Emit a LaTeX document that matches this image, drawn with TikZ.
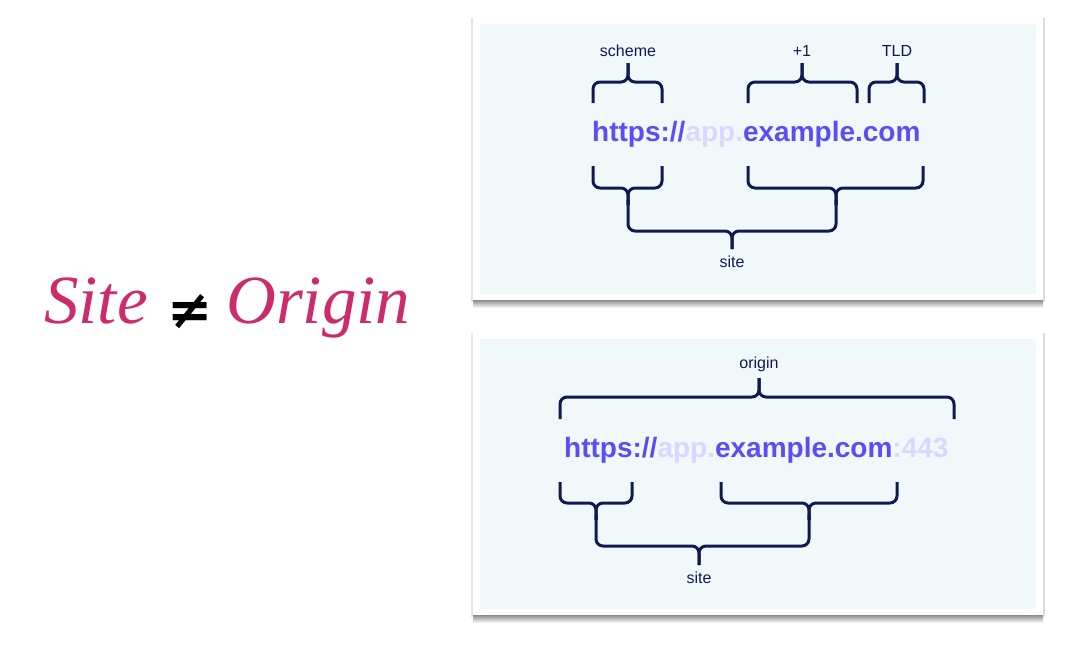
\documentclass[tikz,border=0pt]{standalone}
\usepackage{fontspec}
\setmainfont{Liberation Sans}
\newfontfamily\titlefont{Liberation Serif}
\newfontfamily\symfont{DejaVu Sans}
\usetikzlibrary{positioning}

\definecolor{urlblue}{HTML}{5B4DF6}
\definecolor{urlpale}{HTML}{DAD6FE}
\definecolor{bracenavy}{HTML}{0E1B50}
\definecolor{panelblue}{HTML}{F1F8FA}
\definecolor{titlepink}{HTML}{CC2B6C}

\tikzset{
	brace/.style={draw=bracenavy, line width=3pt, rounded corners=7pt},
	lbl/.style={text=bracenavy, font=\fontsize{16}{18}\selectfont, inner sep=0pt},
	url/.style={font=\fontsize{28}{32}\selectfont\bfseries, inner sep=0pt, anchor=base west},
	titleword/.style={text=titlepink, font=\fontsize{69}{75}\selectfont\titlefont\itshape, inner sep=0pt, anchor=base west},
	neqsign/.style={font=\fontsize{54}{58}\selectfont\symfont\bfseries, inner sep=0pt}
}

\begin{document}
\begin{tikzpicture}[x=1pt, y=-1pt]

		\useasboundingbox (0,0) rectangle (1086,651);

		% Define the macros.
		% Card: 1st argument: top y, 2nd argument: bottom y of the white card.
		\newcommand{\urlCard}[2]{
			\shade[top color=black!45, bottom color=white] (473,#2) rectangle (1043,#2+8);
			\fill[black!10] (471,#1) rectangle (473,#2+2);
			\fill[black!14] (1043,#1) rectangle (1045,#2+2);
			\fill[white] (473,#1) rectangle (1043,#2);
			\fill[panelblue] (480,#1+6) rectangle (1036,#2-6);
		}

		% Brace: 1st/2nd argument: x of left and right leg,
		% 3rd argument: y where the legs end, 4th argument: y of the bar,
		% 5th argument: tip coordinate.
		\newcommand{\urlBrace}[5]{
			\draw[brace] (#1,#3) -- (#1,#4) -| (#5);
			\draw[brace] (#2,#3) -- (#2,#4) -| (#5);
		}

		% TITLE
		\node[titleword] (siteWord) at (44,323) {Site};
		\node[neqsign] (neq) at (190,312) {≠};
		\node[titleword] (originWord) at (226,323) {Origin};

		% SITE CARD
		\urlCard{18}{300}
		\node[url] (urlTop) at (592,141) {\textcolor{urlblue}{https://}\textcolor{urlpale}{app.}\textcolor{urlblue}{example.com}};

		\coordinate (schemeTip) at (628,63);
		\coordinate (plusTip) at (802,63);
		\coordinate (tldTip) at (897,63);
		\node[lbl, above=6pt of schemeTip] (scheme) {scheme};
		\node[lbl, above=6pt of plusTip] (plusOne) {+1};
		\node[lbl, above=6pt of tldTip] (tld) {TLD};
		\urlBrace{593}{662}{103}{82}{schemeTip}
		\urlBrace{748}{857}{103}{82}{plusTip}
		\urlBrace{869}{924}{103}{82}{tldTip}

		\coordinate (schemeLow) at (628,205);
		\coordinate (domainLow) at (836,205);
		\coordinate (siteTip) at (732,249);
		\urlBrace{593}{662}{166}{188}{schemeLow}
		\urlBrace{748}{923}{166}{188}{domainLow}
		\urlBrace{628}{836}{200}{231}{siteTip}
		\node[lbl, below=7pt of siteTip] (siteTop) {site};

		% ORIGIN CARD
		\urlCard{333}{615}
		\node[url] (urlBottom) at (564,457) {\textcolor{urlblue}{https://}\textcolor{urlpale}{app.}\textcolor{urlblue}{example.com}\textcolor{urlpale}{:443}};

		\coordinate (originTip) at (759,378);
		\node[lbl, above=6pt of originTip] (origin) {origin};
		\urlBrace{560}{954}{419}{397}{originTip}

		\coordinate (schemeLowB) at (596,520);
		\coordinate (domainLowB) at (809,520);
		\coordinate (siteTipB) at (699,565);
		\urlBrace{560}{632}{482}{503}{schemeLowB}
		\urlBrace{721}{897}{482}{503}{domainLowB}
		\urlBrace{596}{809}{515}{546}{siteTipB}
		\node[lbl, below=7pt of siteTipB] (siteBottom) {site};

\end{tikzpicture}
\end{document}
